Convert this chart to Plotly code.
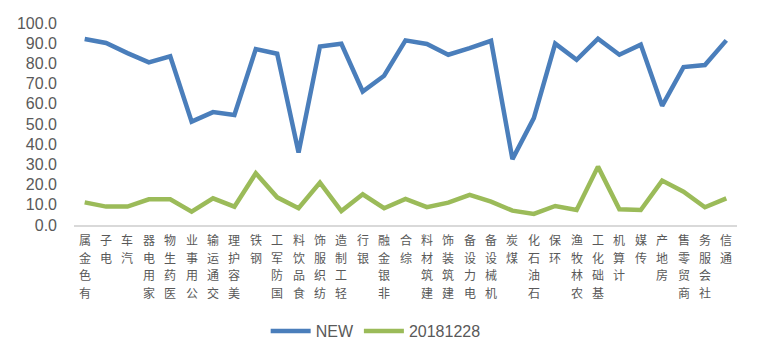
import plotly.graph_objects as go

categories = ["有色金属", "电子", "汽车", "家用电器", "医药生物", "公用事业", "交通运输", "美容护理",
              "钢铁", "国防军工", "食品饮料", "纺织服饰", "轻工制造", "银行", "非银金融", "综合",
              "建筑材料", "建筑装饰", "电力设备", "机械设备", "煤炭", "石油石化", "环保", "农林牧渔",
              "基础化工", "计算机", "传媒", "房地产", "商贸零售", "社会服务", "通信"]

new_values = [92.1, 90.1, 85.1, 80.5, 83.5, 51.2, 55.9, 54.5, 87.1, 84.8, 35.9, 88.4, 89.7, 66.1,
              73.9, 91.4, 89.6, 84.3, 87.6, 91.2, 32.6, 52.9, 89.8, 81.8, 92.2, 84.3, 89.3, 59.0,
              78.2, 79.2, 91.4]

old_values = [11.2, 9.1, 9.1, 12.7, 12.7, 6.6, 13.2, 9.1, 25.6, 13.7, 8.3, 21.0, 6.9, 15.2,
              8.3, 12.9, 8.8, 11.1, 14.9, 11.6, 7.1, 5.5, 9.4, 7.4, 28.9, 7.8, 7.4, 22.0,
              16.5, 8.8, 13.2]

series_names = ["NEW", "20181228"]
y_ticks = [0, 10, 20, 30, 40, 50, 60, 70, 80, 90, 100]

fig = go.Figure()
fig.add_trace(go.Scatter(x=categories, y=new_values, mode="lines", name=series_names[0],
                         line=dict(color="#4A7EBB", width=4.5)))
fig.add_trace(go.Scatter(x=categories, y=old_values, mode="lines", name=series_names[1],
                         line=dict(color="#9BBB59", width=4.5)))

# category labels: upright characters stacked vertically, reading bottom-to-top
CHAR_PITCH = 17.5
LABEL_TOP = 5
for cat in categories:
    for j, ch in enumerate(reversed(cat)):
        fig.add_annotation(
            x=cat, xref="x", y=0, yref="paper", yanchor="top", xanchor="center",
            yshift=-(LABEL_TOP + j * CHAR_PITCH), text=ch, showarrow=False,
            font=dict(family="Noto Sans CJK SC", size=12, color="#595959"),
            borderpad=0,
        )

fig.update_layout(
    width=760, height=359,
    margin=dict(l=74, r=23, t=23, b=134, autoexpand=False),
    plot_bgcolor="white", paper_bgcolor="white",
    font=dict(family="Liberation Sans, Arial", color="#595959", size=16),
    showlegend=True,
    legend=dict(orientation="h", x=0.455, xanchor="center", y=-0.525, yanchor="middle",
                font=dict(size=16, color="#595959"), itemwidth=40, tracegroupgap=0),
)
fig.update_xaxes(
    type="category", range=[-0.5, 30.5], automargin=False, showticklabels=False,
    showline=True, linecolor="#D9D9D9", linewidth=2, showgrid=False, ticks="",
)
fig.update_yaxes(
    range=[0, 100], tickmode="array", tickvals=y_ticks, automargin=False,
    ticktext=[f"{v:.1f}" for v in y_ticks], ticklabelstandoff=16,
    tickfont=dict(size=16, color="#595959"),
    showgrid=False, zeroline=False, showline=False, ticks="",
)

fig.write_html("out.html", config={"displayModeBar": False},
               post_script="document.body.style.margin='0';")
